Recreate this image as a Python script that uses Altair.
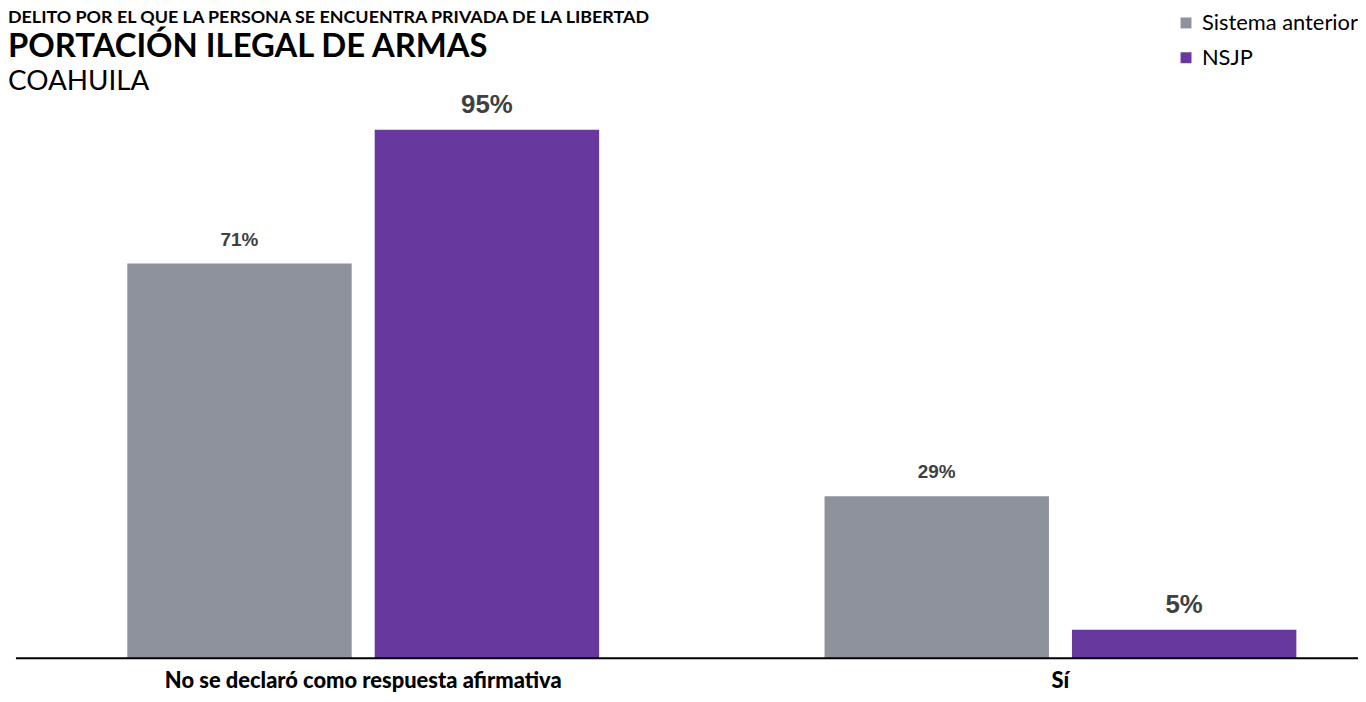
import altair as alt
import pandas as pd

categorias = ["No se declaró como respuesta afirmativa", "Sí"]
series = ["Sistema anterior", "NSJP"]
sistema_anterior = [70.9, 29.1]
nsjp = [94.9, 5.1]
colores = ["#8E929C", "#67399F"]
tam_etiqueta = [19, 26]

rows = []
for c, a, b in zip(categorias, sistema_anterior, nsjp):
    rows.append({"categoria": c, "serie": series[0], "valor": a})
    rows.append({"categoria": c, "serie": series[1], "valor": b})
df = pd.DataFrame(rows)

W, H = 1350, 560

x = alt.X("categoria:N", sort=categorias,
          scale=alt.Scale(range=[112, 1288], paddingInner=0.3233, paddingOuter=0),
          axis=alt.Axis(title=None, domain=False, ticks=False, labelAngle=0, labelLimit=0,
                        labelFont="Lato", labelFontWeight=900, labelFontSize=22,
                        labelColor="#000000", labelPadding=12))
xo = alt.XOffset("serie:N", sort=series,
                 scale=alt.Scale(domain=series, paddingInner=0.093, paddingOuter=0))
y = alt.Y("valor:Q", scale=alt.Scale(domain=[0, 100]), axis=None)
color = alt.Color("serie:N", sort=series,
                  scale=alt.Scale(domain=series, range=colores),
                  legend=alt.Legend(title=None, orient="none", legendX=1166, legendY=-90,
                                    symbolType="square", symbolSize=121,
                                    labelFont="Lato", labelFontSize=22, labelColor="#000000",
                                    rowPadding=13, labelOffset=5, symbolStrokeWidth=0,
                                    labelLimit=0))

bars = alt.Chart(df).mark_bar().encode(x=x, xOffset=xo, y=y, color=color)

base_labels = alt.Chart(df).transform_calculate(
    etiqueta="format(datum.valor, '.0f') + '%'"
)
labels_a = base_labels.transform_filter(alt.datum.serie == series[0]).mark_text(
    baseline="alphabetic", dy=-18, font="Liberation Sans", fontWeight="bold",
    fontSize=tam_etiqueta[0], color="#404040").encode(x=x, xOffset=xo, y=y, text="etiqueta:N")
labels_b = base_labels.transform_filter(alt.datum.serie == series[1]).mark_text(
    baseline="alphabetic", dy=-17, font="Liberation Sans", fontWeight="bold",
    fontSize=tam_etiqueta[1], color="#404040").encode(x=x, xOffset=xo, y=y, text="etiqueta:N")

one = pd.DataFrame({"k": [0]})
axis_line = alt.Chart(one).mark_rule(color="#000000", strokeWidth=2).encode(
    x=alt.value(0), x2=alt.value(W), y=alt.value(H))

t1 = alt.Chart(one).mark_text(text="DELITO POR EL QUE LA PERSONA SE ENCUENTRA PRIVADA DE LA LIBERTAD",
                              align="left", baseline="alphabetic", font="Lato", fontWeight="bold",
                              fontSize=18, color="#000000").encode(x=alt.value(-8), y=alt.value(-79))
t2 = alt.Chart(one).mark_text(text="PORTACIÓN ILEGAL DE ARMAS",
                              align="left", baseline="alphabetic", font="Lato", fontWeight="bold",
                              fontSize=33, color="#000000").encode(x=alt.value(-8), y=alt.value(-45))
t3 = alt.Chart(one).mark_text(text="COAHUILA",
                              align="left", baseline="alphabetic", font="Lato",
                              fontSize=28, color="#000000").encode(x=alt.value(-8), y=alt.value(-12))

chart = alt.layer(bars, labels_a, labels_b, axis_line, t1, t2, t3).properties(
    width=W, height=H,
    padding={"left": 8, "top": 92, "right": 0, "bottom": 34},
    autosize="none",
).configure_view(stroke=None)

chart.save("out.html", embed_options={"renderer": "svg", "actions": False})
